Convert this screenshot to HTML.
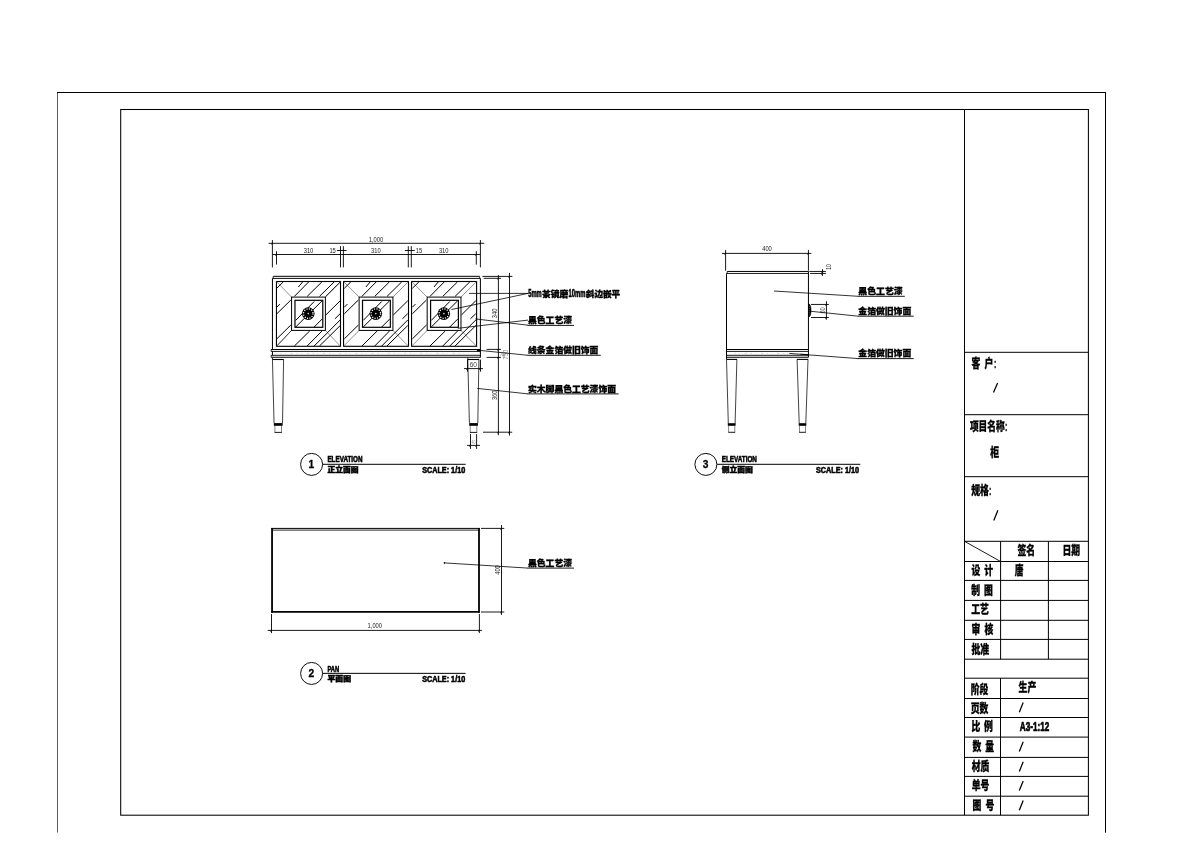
<!DOCTYPE html>
<html lang="zh-CN"><head><meta charset="utf-8"><title>柜 - 生产图 A3-1:12</title>
<style>html,body{margin:0;padding:0;background:#fff;}body{width:1191px;height:842px;overflow:hidden;}svg{display:block;filter:grayscale(1);}text{font-family:"Liberation Sans","Noto Sans CJK SC",sans-serif;}</style></head><body>
<svg width="1191" height="842" viewBox="0 0 1191 842">
<rect x="0" y="0" width="1191" height="842" fill="#fff"/>
<g id="frames">
<line x1="57.50" y1="832.60" x2="57.50" y2="92.00" stroke="#333" stroke-width="0.8" />
<line x1="57.00" y1="92.50" x2="1106.00" y2="92.50" stroke="#000" stroke-width="1.0" />
<line x1="1105.50" y1="92.00" x2="1105.50" y2="832.70" stroke="#000" stroke-width="1.0" />
<rect x="120.70" y="109.50" width="967.70" height="705.70" fill="none" stroke="#000" stroke-width="1.05"/>
<line x1="964.50" y1="109.60" x2="964.50" y2="815.20" stroke="#000" stroke-width="1.0" />
<line x1="964.50" y1="352.30" x2="1088.40" y2="352.30" stroke="#000" stroke-width="1.0" />
<line x1="964.50" y1="414.70" x2="1088.40" y2="414.70" stroke="#000" stroke-width="1.0" />
<line x1="964.50" y1="476.70" x2="1088.40" y2="476.70" stroke="#000" stroke-width="1.0" />
<line x1="964.50" y1="541.30" x2="1088.40" y2="541.30" stroke="#000" stroke-width="1.0" />
<line x1="964.50" y1="561.50" x2="1088.40" y2="561.50" stroke="#000" stroke-width="1.0" />
<line x1="964.50" y1="580.40" x2="1088.40" y2="580.40" stroke="#000" stroke-width="1.0" />
<line x1="964.50" y1="600.40" x2="1088.40" y2="600.40" stroke="#000" stroke-width="1.0" />
<line x1="964.50" y1="620.30" x2="1088.40" y2="620.30" stroke="#000" stroke-width="1.0" />
<line x1="964.50" y1="639.40" x2="1088.40" y2="639.40" stroke="#000" stroke-width="1.0" />
<line x1="964.50" y1="659.20" x2="1088.40" y2="659.20" stroke="#000" stroke-width="1.0" />
<line x1="964.50" y1="678.20" x2="1088.40" y2="678.20" stroke="#000" stroke-width="1.0" />
<line x1="964.50" y1="698.50" x2="1088.40" y2="698.50" stroke="#000" stroke-width="1.0" />
<line x1="964.50" y1="717.50" x2="1088.40" y2="717.50" stroke="#000" stroke-width="1.0" />
<line x1="964.50" y1="737.10" x2="1088.40" y2="737.10" stroke="#000" stroke-width="1.0" />
<line x1="964.50" y1="757.40" x2="1088.40" y2="757.40" stroke="#000" stroke-width="1.0" />
<line x1="964.50" y1="776.40" x2="1088.40" y2="776.40" stroke="#000" stroke-width="1.0" />
<line x1="964.50" y1="796.20" x2="1088.40" y2="796.20" stroke="#000" stroke-width="1.0" />
<line x1="1000.60" y1="541.30" x2="1000.60" y2="659.20" stroke="#000" stroke-width="1.0" />
<line x1="1048.40" y1="541.30" x2="1048.40" y2="659.20" stroke="#000" stroke-width="1.0" />
<line x1="964.50" y1="541.30" x2="1000.60" y2="561.50" stroke="#000" stroke-width="0.9" />
<line x1="1000.50" y1="678.20" x2="1000.50" y2="815.20" stroke="#000" stroke-width="1.0" />
</g>
<g id="titleblock">
<text transform="translate(971.60,368.37) scale(0.735,1)" font-size="12.0" font-weight="900" fill="#000" text-anchor="start" stroke="#000" stroke-width="0.3">客</text>
<text transform="translate(984.40,368.37) scale(0.735,1)" font-size="12.0" font-weight="900" fill="#000" text-anchor="start" stroke="#000" stroke-width="0.3">户</text>
<text transform="translate(993.90,368.37) scale(0.6,1)" font-size="12.0" font-weight="bold" fill="#000" text-anchor="start" stroke="#000" stroke-width="0.3">:</text>
<line x1="993.50" y1="392.60" x2="997.60" y2="383.10" stroke="#000" stroke-width="1.25" />
<text transform="translate(969.90,430.97) scale(0.725,1)" font-size="12.0" font-weight="900" fill="#000" text-anchor="start" stroke="#000" stroke-width="0.3">项目名称</text>
<text transform="translate(1005.00,430.97) scale(0.6,1)" font-size="12.0" font-weight="bold" fill="#000" text-anchor="start" stroke="#000" stroke-width="0.3">:</text>
<text transform="translate(990.30,456.97) scale(0.735,1)" font-size="12.0" font-weight="900" fill="#000" text-anchor="start" stroke="#000" stroke-width="0.3">柜</text>
<text transform="translate(971.20,495.17) scale(0.735,1)" font-size="12.0" font-weight="900" fill="#000" text-anchor="start" stroke="#000" stroke-width="0.3">规格</text>
<text transform="translate(988.90,495.17) scale(0.6,1)" font-size="12.0" font-weight="bold" fill="#000" text-anchor="start" stroke="#000" stroke-width="0.3">:</text>
<line x1="993.80" y1="520.40" x2="997.90" y2="510.30" stroke="#000" stroke-width="1.25" />
<text transform="translate(1017.50,555.17) scale(0.735,1)" font-size="12.0" font-weight="900" fill="#000" text-anchor="start" stroke="#000" stroke-width="0.3">签名</text>
<text transform="translate(1062.40,555.17) scale(0.735,1)" font-size="12.0" font-weight="900" fill="#000" text-anchor="start" stroke="#000" stroke-width="0.3">日期</text>
<text transform="translate(971.50,574.77) scale(0.735,1)" font-size="12.0" font-weight="900" fill="#000" text-anchor="start" stroke="#000" stroke-width="0.3">设</text>
<text transform="translate(984.30,574.77) scale(0.735,1)" font-size="12.0" font-weight="900" fill="#000" text-anchor="start" stroke="#000" stroke-width="0.3">计</text>
<text transform="translate(1014.80,574.77) scale(0.735,1)" font-size="12.0" font-weight="900" fill="#000" text-anchor="start" stroke="#000" stroke-width="0.3">唐</text>
<text transform="translate(971.30,594.57) scale(0.735,1)" font-size="12.0" font-weight="900" fill="#000" text-anchor="start" stroke="#000" stroke-width="0.3">制</text>
<text transform="translate(984.10,594.57) scale(0.735,1)" font-size="12.0" font-weight="900" fill="#000" text-anchor="start" stroke="#000" stroke-width="0.3">图</text>
<text transform="translate(971.30,614.17) scale(0.735,1)" font-size="12.0" font-weight="900" fill="#000" text-anchor="start" stroke="#000" stroke-width="0.3">工艺</text>
<text transform="translate(971.50,634.37) scale(0.735,1)" font-size="12.0" font-weight="900" fill="#000" text-anchor="start" stroke="#000" stroke-width="0.3">审</text>
<text transform="translate(984.40,634.37) scale(0.735,1)" font-size="12.0" font-weight="900" fill="#000" text-anchor="start" stroke="#000" stroke-width="0.3">核</text>
<text transform="translate(971.50,654.07) scale(0.735,1)" font-size="12.0" font-weight="900" fill="#000" text-anchor="start" stroke="#000" stroke-width="0.3">批准</text>
<text transform="translate(970.80,693.57) scale(0.735,1)" font-size="12.0" font-weight="900" fill="#000" text-anchor="start" stroke="#000" stroke-width="0.3">阶段</text>
<text transform="translate(1018.60,691.97) scale(0.735,1)" font-size="12.0" font-weight="900" fill="#000" text-anchor="start" stroke="#000" stroke-width="0.3">生产</text>
<text transform="translate(970.80,713.27) scale(0.735,1)" font-size="12.0" font-weight="900" fill="#000" text-anchor="start" stroke="#000" stroke-width="0.3">页数</text>
<text transform="translate(971.60,731.27) scale(0.735,1)" font-size="12.0" font-weight="900" fill="#000" text-anchor="start" stroke="#000" stroke-width="0.3">比</text>
<text transform="translate(984.10,731.27) scale(0.735,1)" font-size="12.0" font-weight="900" fill="#000" text-anchor="start" stroke="#000" stroke-width="0.3">例</text>
<text transform="translate(1019.80,730.80) scale(0.66,1)" font-size="12.4" font-weight="bold" fill="#000" text-anchor="start" stroke="#000" stroke-width="0.7">A3-1:12</text>
<text transform="translate(972.40,750.67) scale(0.735,1)" font-size="12.0" font-weight="900" fill="#000" text-anchor="start" stroke="#000" stroke-width="0.3">数</text>
<text transform="translate(985.20,750.67) scale(0.735,1)" font-size="12.0" font-weight="900" fill="#000" text-anchor="start" stroke="#000" stroke-width="0.3">量</text>
<text transform="translate(971.80,771.17) scale(0.735,1)" font-size="12.0" font-weight="900" fill="#000" text-anchor="start" stroke="#000" stroke-width="0.3">材质</text>
<text transform="translate(971.80,790.17) scale(0.735,1)" font-size="12.0" font-weight="900" fill="#000" text-anchor="start" stroke="#000" stroke-width="0.3">单号</text>
<text transform="translate(972.40,809.57) scale(0.735,1)" font-size="12.0" font-weight="900" fill="#000" text-anchor="start" stroke="#000" stroke-width="0.3">图</text>
<text transform="translate(985.60,809.57) scale(0.735,1)" font-size="12.0" font-weight="900" fill="#000" text-anchor="start" stroke="#000" stroke-width="0.3">号</text>
<line x1="1019.30" y1="712.20" x2="1023.20" y2="702.60" stroke="#000" stroke-width="1.25" />
<line x1="1019.30" y1="751.40" x2="1023.20" y2="741.80" stroke="#000" stroke-width="1.25" />
<line x1="1019.30" y1="771.40" x2="1023.20" y2="761.80" stroke="#000" stroke-width="1.25" />
<line x1="1019.30" y1="790.60" x2="1023.20" y2="781.00" stroke="#000" stroke-width="1.25" />
<line x1="1019.30" y1="810.20" x2="1023.20" y2="800.60" stroke="#000" stroke-width="1.25" />
</g>
<g id="view1">
<line x1="273.20" y1="276.30" x2="479.60" y2="276.30" stroke="#000" stroke-width="1.0" />
<line x1="272.40" y1="278.40" x2="480.40" y2="278.40" stroke="#000" stroke-width="0.95" />
<line x1="273.20" y1="276.30" x2="273.20" y2="278.40" stroke="#000" stroke-width="0.8" />
<line x1="479.60" y1="276.30" x2="479.60" y2="278.40" stroke="#000" stroke-width="0.8" />
<line x1="272.45" y1="278.40" x2="272.45" y2="349.45" stroke="#000" stroke-width="1.0" />
<line x1="480.40" y1="278.40" x2="480.40" y2="349.45" stroke="#000" stroke-width="1.0" />
<line x1="271.15" y1="349.45" x2="480.70" y2="349.45" stroke="#000" stroke-width="1.05" />
<line x1="271.15" y1="351.40" x2="480.70" y2="351.40" stroke="#000" stroke-width="0.9" />
<line x1="271.15" y1="355.30" x2="480.70" y2="355.30" stroke="#000" stroke-width="0.9" />
<line x1="271.15" y1="357.30" x2="480.70" y2="357.30" stroke="#000" stroke-width="1.05" />
<line x1="271.15" y1="349.45" x2="271.15" y2="351.40" stroke="#000" stroke-width="0.8" />
<line x1="271.15" y1="355.30" x2="271.15" y2="357.30" stroke="#000" stroke-width="0.8" />
<line x1="272.45" y1="351.40" x2="272.45" y2="355.30" stroke="#000" stroke-width="1.0" />
<line x1="480.40" y1="349.45" x2="480.40" y2="357.30" stroke="#000" stroke-width="1.0" />
<rect x="476.9" y="349.45" width="3.3" height="1.9" fill="#000"/>
<line x1="280.40" y1="353.30" x2="468.40" y2="353.30" stroke="#bbb" stroke-width="0.6" stroke-dasharray="1.2 3.1 0.6 5.3 2 4"/>
<rect x="276.45" y="281.50" width="64.05" height="64.80" fill="none" stroke="#000" stroke-width="1.1"/>
<line x1="276.45" y1="281.50" x2="291.58" y2="297.10" stroke="#666" stroke-width="0.7" />
<line x1="340.50" y1="281.50" x2="325.38" y2="297.10" stroke="#666" stroke-width="0.7" />
<line x1="276.45" y1="346.30" x2="291.58" y2="330.40" stroke="#666" stroke-width="0.7" />
<line x1="340.50" y1="346.30" x2="325.38" y2="330.40" stroke="#666" stroke-width="0.7" />
<line x1="276.78" y1="288.30" x2="283.28" y2="281.90" stroke="#000" stroke-width="1.0" />
<line x1="298.38" y1="287.00" x2="302.58" y2="282.00" stroke="#000" stroke-width="1.0" />
<line x1="294.38" y1="296.40" x2="308.68" y2="281.90" stroke="#000" stroke-width="1.0" />
<line x1="307.18" y1="296.40" x2="321.88" y2="281.90" stroke="#000" stroke-width="1.0" />
<line x1="319.48" y1="296.40" x2="334.18" y2="281.90" stroke="#000" stroke-width="1.0" />
<line x1="276.78" y1="307.20" x2="279.88" y2="304.10" stroke="#000" stroke-width="1.0" />
<line x1="276.78" y1="313.80" x2="290.88" y2="300.00" stroke="#000" stroke-width="1.0" />
<line x1="276.78" y1="338.90" x2="290.88" y2="325.00" stroke="#000" stroke-width="1.0" />
<line x1="294.38" y1="346.00" x2="309.78" y2="330.90" stroke="#000" stroke-width="1.0" />
<line x1="307.18" y1="346.00" x2="322.08" y2="330.90" stroke="#000" stroke-width="1.0" />
<line x1="314.18" y1="346.00" x2="340.18" y2="320.00" stroke="#000" stroke-width="1.0" />
<line x1="319.48" y1="346.00" x2="340.18" y2="325.60" stroke="#000" stroke-width="1.0" />
<line x1="325.78" y1="315.00" x2="340.18" y2="300.80" stroke="#000" stroke-width="1.0" />
<line x1="334.88" y1="318.80" x2="340.18" y2="313.70" stroke="#000" stroke-width="1.0" />
<line x1="295.68" y1="320.40" x2="314.18" y2="301.50" stroke="#000" stroke-width="1.0" />
<line x1="295.68" y1="327.00" x2="322.08" y2="300.80" stroke="#000" stroke-width="1.0" />
<line x1="314.18" y1="327.00" x2="322.08" y2="319.10" stroke="#000" stroke-width="1.0" />
<line x1="325.80" y1="296.40" x2="339.90" y2="282.40" stroke="#000" stroke-width="0.9" />
<line x1="276.90" y1="345.90" x2="291.30" y2="330.60" stroke="#333" stroke-width="0.8" />
<rect x="291.58" y="297.10" width="33.80" height="33.30" fill="none" stroke="#000" stroke-width="1.0"/>
<rect x="294.98" y="300.30" width="27.80" height="27.00" fill="none" stroke="#000" stroke-width="1.2"/>
<circle cx="308.28" cy="313.60" r="6.3" fill="#000"/>
<circle cx="308.28" cy="313.60" r="4.75" fill="none" stroke="#fff" stroke-width="1.25" stroke-dasharray="1.15 1.337"/>
<circle cx="308.28" cy="313.60" r="0.8" fill="#ddd"/>
<rect x="343.55" y="281.50" width="64.95" height="64.80" fill="none" stroke="#000" stroke-width="1.1"/>
<line x1="343.55" y1="281.50" x2="359.12" y2="297.10" stroke="#666" stroke-width="0.7" />
<line x1="408.50" y1="281.50" x2="392.92" y2="297.10" stroke="#666" stroke-width="0.7" />
<line x1="343.55" y1="346.30" x2="359.12" y2="330.40" stroke="#666" stroke-width="0.7" />
<line x1="408.50" y1="346.30" x2="392.92" y2="330.40" stroke="#666" stroke-width="0.7" />
<line x1="344.32" y1="288.30" x2="350.82" y2="281.90" stroke="#000" stroke-width="1.0" />
<line x1="365.92" y1="287.00" x2="370.12" y2="282.00" stroke="#000" stroke-width="1.0" />
<line x1="361.92" y1="296.40" x2="376.22" y2="281.90" stroke="#000" stroke-width="1.0" />
<line x1="374.72" y1="296.40" x2="389.42" y2="281.90" stroke="#000" stroke-width="1.0" />
<line x1="387.02" y1="296.40" x2="401.72" y2="281.90" stroke="#000" stroke-width="1.0" />
<line x1="344.32" y1="307.20" x2="347.42" y2="304.10" stroke="#000" stroke-width="1.0" />
<line x1="344.32" y1="313.80" x2="358.42" y2="300.00" stroke="#000" stroke-width="1.0" />
<line x1="344.32" y1="338.90" x2="358.42" y2="325.00" stroke="#000" stroke-width="1.0" />
<line x1="361.92" y1="346.00" x2="377.32" y2="330.90" stroke="#000" stroke-width="1.0" />
<line x1="374.72" y1="346.00" x2="389.62" y2="330.90" stroke="#000" stroke-width="1.0" />
<line x1="381.72" y1="346.00" x2="407.72" y2="320.00" stroke="#000" stroke-width="1.0" />
<line x1="387.02" y1="346.00" x2="407.72" y2="325.60" stroke="#000" stroke-width="1.0" />
<line x1="393.32" y1="315.00" x2="407.72" y2="300.80" stroke="#000" stroke-width="1.0" />
<line x1="402.42" y1="318.80" x2="407.72" y2="313.70" stroke="#000" stroke-width="1.0" />
<line x1="363.22" y1="320.40" x2="381.72" y2="301.50" stroke="#000" stroke-width="1.0" />
<line x1="363.22" y1="327.00" x2="389.62" y2="300.80" stroke="#000" stroke-width="1.0" />
<line x1="381.72" y1="327.00" x2="389.62" y2="319.10" stroke="#000" stroke-width="1.0" />
<rect x="359.12" y="297.10" width="33.80" height="33.30" fill="none" stroke="#000" stroke-width="1.0"/>
<rect x="362.52" y="300.30" width="27.80" height="27.00" fill="none" stroke="#000" stroke-width="1.2"/>
<circle cx="375.82" cy="313.60" r="6.3" fill="#000"/>
<circle cx="375.82" cy="313.60" r="4.75" fill="none" stroke="#fff" stroke-width="1.25" stroke-dasharray="1.15 1.337"/>
<circle cx="375.82" cy="313.60" r="0.8" fill="#ddd"/>
<rect x="411.55" y="281.50" width="65.05" height="64.80" fill="none" stroke="#000" stroke-width="1.1"/>
<line x1="411.55" y1="281.50" x2="427.18" y2="297.10" stroke="#666" stroke-width="0.7" />
<line x1="476.60" y1="281.50" x2="460.98" y2="297.10" stroke="#666" stroke-width="0.7" />
<line x1="411.55" y1="346.30" x2="427.18" y2="330.40" stroke="#666" stroke-width="0.7" />
<line x1="476.60" y1="346.30" x2="460.98" y2="330.40" stroke="#666" stroke-width="0.7" />
<line x1="412.38" y1="288.30" x2="418.88" y2="281.90" stroke="#000" stroke-width="1.0" />
<line x1="433.98" y1="287.00" x2="438.18" y2="282.00" stroke="#000" stroke-width="1.0" />
<line x1="429.98" y1="296.40" x2="444.28" y2="281.90" stroke="#000" stroke-width="1.0" />
<line x1="442.78" y1="296.40" x2="457.48" y2="281.90" stroke="#000" stroke-width="1.0" />
<line x1="455.08" y1="296.40" x2="469.78" y2="281.90" stroke="#000" stroke-width="1.0" />
<line x1="412.38" y1="307.20" x2="415.48" y2="304.10" stroke="#000" stroke-width="1.0" />
<line x1="412.38" y1="313.80" x2="426.48" y2="300.00" stroke="#000" stroke-width="1.0" />
<line x1="412.38" y1="338.90" x2="426.48" y2="325.00" stroke="#000" stroke-width="1.0" />
<line x1="429.98" y1="346.00" x2="445.38" y2="330.90" stroke="#000" stroke-width="1.0" />
<line x1="442.78" y1="346.00" x2="457.68" y2="330.90" stroke="#000" stroke-width="1.0" />
<line x1="449.78" y1="346.00" x2="475.78" y2="320.00" stroke="#000" stroke-width="1.0" />
<line x1="455.08" y1="346.00" x2="475.78" y2="325.60" stroke="#000" stroke-width="1.0" />
<line x1="461.38" y1="315.00" x2="475.78" y2="300.80" stroke="#000" stroke-width="1.0" />
<line x1="470.48" y1="318.80" x2="475.78" y2="313.70" stroke="#000" stroke-width="1.0" />
<line x1="431.28" y1="320.40" x2="449.78" y2="301.50" stroke="#000" stroke-width="1.0" />
<line x1="431.28" y1="327.00" x2="457.68" y2="300.80" stroke="#000" stroke-width="1.0" />
<line x1="449.78" y1="327.00" x2="457.68" y2="319.10" stroke="#000" stroke-width="1.0" />
<rect x="427.18" y="297.10" width="33.80" height="33.30" fill="none" stroke="#000" stroke-width="1.0"/>
<rect x="430.58" y="300.30" width="27.80" height="27.00" fill="none" stroke="#000" stroke-width="1.2"/>
<circle cx="443.88" cy="313.60" r="6.3" fill="#000"/>
<circle cx="443.88" cy="313.60" r="4.75" fill="none" stroke="#fff" stroke-width="1.25" stroke-dasharray="1.15 1.337"/>
<circle cx="443.88" cy="313.60" r="0.8" fill="#ddd"/>
<line x1="272.25" y1="359.50" x2="283.70" y2="359.50" stroke="#000" stroke-width="1.1" />
<line x1="272.45" y1="357.50" x2="272.45" y2="359.50" stroke="#000" stroke-width="0.8" />
<line x1="272.45" y1="359.50" x2="274.05" y2="423.20" stroke="#111" stroke-width="0.8" />
<line x1="283.60" y1="359.50" x2="282.50" y2="423.20" stroke="#111" stroke-width="0.8" />
<rect x="273.85" y="423.1" width="8.80" height="2.7" fill="#000"/>
<line x1="274.90" y1="425.80" x2="274.90" y2="432.40" stroke="#555" stroke-width="0.7" />
<line x1="281.50" y1="425.80" x2="281.50" y2="432.40" stroke="#555" stroke-width="0.7" />
<line x1="274.55" y1="432.40" x2="281.85" y2="432.40" stroke="#000" stroke-width="0.9" />
<line x1="467.60" y1="359.50" x2="479.00" y2="359.50" stroke="#000" stroke-width="1.1" />
<line x1="467.80" y1="357.50" x2="467.80" y2="359.50" stroke="#000" stroke-width="0.8" />
<line x1="467.80" y1="359.50" x2="469.40" y2="423.20" stroke="#111" stroke-width="0.8" />
<line x1="478.90" y1="359.50" x2="477.80" y2="423.20" stroke="#111" stroke-width="0.8" />
<rect x="469.20" y="423.1" width="8.75" height="2.7" fill="#000"/>
<line x1="470.25" y1="425.80" x2="470.25" y2="432.40" stroke="#555" stroke-width="0.7" />
<line x1="476.80" y1="425.80" x2="476.80" y2="432.40" stroke="#555" stroke-width="0.7" />
<line x1="469.90" y1="432.40" x2="477.15" y2="432.40" stroke="#000" stroke-width="0.9" />
<line x1="268.60" y1="243.30" x2="484.20" y2="243.30" stroke="#000" stroke-width="0.9" />
<line x1="272.40" y1="240.00" x2="272.40" y2="267.40" stroke="#000" stroke-width="0.9" />
<line x1="480.40" y1="240.00" x2="480.40" y2="267.40" stroke="#000" stroke-width="0.9" />
<line x1="272.40" y1="254.50" x2="480.40" y2="254.50" stroke="#000" stroke-width="0.9" />
<line x1="276.50" y1="251.20" x2="276.50" y2="264.60" stroke="#000" stroke-width="0.9" />
<line x1="476.30" y1="251.20" x2="476.30" y2="264.60" stroke="#000" stroke-width="0.9" />
<line x1="340.50" y1="246.20" x2="340.50" y2="267.40" stroke="#000" stroke-width="0.9" />
<line x1="343.40" y1="246.20" x2="343.40" y2="267.40" stroke="#000" stroke-width="0.9" />
<line x1="408.30" y1="246.20" x2="408.30" y2="267.40" stroke="#000" stroke-width="0.9" />
<line x1="411.30" y1="246.20" x2="411.30" y2="267.40" stroke="#000" stroke-width="0.9" />
<line x1="336.90" y1="250.50" x2="346.60" y2="250.50" stroke="#000" stroke-width="0.9" />
<line x1="404.90" y1="250.50" x2="414.80" y2="250.50" stroke="#000" stroke-width="0.9" />
<line x1="271.15" y1="244.30" x2="272.90" y2="242.75" stroke="#000" stroke-width="0.9"/>
<line x1="479.15" y1="244.30" x2="480.90" y2="242.75" stroke="#000" stroke-width="0.9"/>
<line x1="275.25" y1="255.50" x2="277.00" y2="253.95" stroke="#000" stroke-width="0.9"/>
<line x1="475.05" y1="255.50" x2="476.80" y2="253.95" stroke="#000" stroke-width="0.9"/>
<text transform="translate(375.90,242.10) scale(0.76,1)" font-size="7.6" font-weight="normal" fill="#222" text-anchor="middle">1,000</text>
<text transform="translate(308.50,253.20) scale(0.76,1)" font-size="7.6" font-weight="normal" fill="#222" text-anchor="middle">310</text>
<text transform="translate(375.90,253.20) scale(0.76,1)" font-size="7.6" font-weight="normal" fill="#222" text-anchor="middle">310</text>
<text transform="translate(443.70,253.20) scale(0.76,1)" font-size="7.6" font-weight="normal" fill="#222" text-anchor="middle">310</text>
<text transform="translate(332.60,252.50) scale(0.76,1)" font-size="7.6" font-weight="normal" fill="#222" text-anchor="middle">15</text>
<text transform="translate(419.00,252.50) scale(0.76,1)" font-size="7.6" font-weight="normal" fill="#222" text-anchor="middle">15</text>
<line x1="482.40" y1="276.40" x2="512.40" y2="276.40" stroke="#000" stroke-width="0.9" />
<line x1="483.70" y1="278.30" x2="501.10" y2="278.30" stroke="#000" stroke-width="0.9" />
<line x1="498.40" y1="275.00" x2="498.40" y2="435.20" stroke="#000" stroke-width="0.9" />
<line x1="509.50" y1="272.90" x2="509.50" y2="435.60" stroke="#000" stroke-width="0.9" />
<line x1="486.60" y1="349.40" x2="500.90" y2="349.40" stroke="#000" stroke-width="0.9" />
<line x1="486.60" y1="357.40" x2="500.90" y2="357.40" stroke="#000" stroke-width="0.9" />
<line x1="483.00" y1="432.20" x2="512.20" y2="432.20" stroke="#000" stroke-width="0.9" />
<line x1="497.15" y1="279.30" x2="498.90" y2="277.75" stroke="#000" stroke-width="0.9"/>
<line x1="508.25" y1="277.40" x2="510.00" y2="275.85" stroke="#000" stroke-width="0.9"/>
<line x1="497.15" y1="350.40" x2="498.90" y2="348.85" stroke="#000" stroke-width="0.9"/>
<line x1="497.15" y1="358.40" x2="498.90" y2="356.85" stroke="#000" stroke-width="0.9"/>
<line x1="497.15" y1="433.20" x2="498.90" y2="431.65" stroke="#000" stroke-width="0.9"/>
<line x1="508.25" y1="433.20" x2="510.00" y2="431.65" stroke="#000" stroke-width="0.9"/>
<text transform="translate(496.90,313.40) rotate(-90) scale(0.76,1)" font-size="7.6" font-weight="normal" fill="#222" text-anchor="middle">340</text>
<text transform="translate(496.70,395.30) rotate(-90) scale(0.76,1)" font-size="7.6" font-weight="normal" fill="#222" text-anchor="middle">360</text>
<text transform="translate(508.00,354.60) rotate(-90) scale(0.76,1)" font-size="7.6" font-weight="normal" fill="#888" text-anchor="middle">750</text>
<text transform="translate(505.00,356.00) rotate(-60) scale(0.76,1)" font-size="6.4" font-weight="normal" fill="#999" text-anchor="middle">30</text>
<line x1="464.00" y1="368.60" x2="483.00" y2="368.60" stroke="#000" stroke-width="0.9" />
<line x1="479.70" y1="359.50" x2="479.70" y2="368.00" stroke="#999" stroke-width="0.6" />
<line x1="467.50" y1="359.60" x2="467.50" y2="371.70" stroke="#000" stroke-width="0.9" />
<line x1="466.25" y1="369.60" x2="468.00" y2="368.05" stroke="#000" stroke-width="0.9"/>
<line x1="480.50" y1="359.60" x2="480.50" y2="371.70" stroke="#000" stroke-width="0.9" />
<line x1="479.25" y1="369.60" x2="481.00" y2="368.05" stroke="#000" stroke-width="0.9"/>
<text transform="translate(473.30,367.20) scale(0.86,1)" font-size="7.6" font-weight="normal" fill="#444" text-anchor="middle">60</text>
<line x1="470.50" y1="434.10" x2="470.50" y2="448.90" stroke="#000" stroke-width="0.9" />
<line x1="469.25" y1="446.40" x2="471.00" y2="444.85" stroke="#000" stroke-width="0.9"/>
<line x1="476.60" y1="434.10" x2="476.60" y2="448.90" stroke="#000" stroke-width="0.9" />
<line x1="475.35" y1="446.40" x2="477.10" y2="444.85" stroke="#000" stroke-width="0.9"/>
<line x1="467.00" y1="445.40" x2="480.00" y2="445.40" stroke="#000" stroke-width="0.9" />
<text transform="translate(473.50,444.40) scale(0.76,1)" font-size="4.6" font-weight="normal" fill="#999" text-anchor="middle">40</text>
<text x="528.30" y="296.90" font-size="10.8" font-weight="bold" fill="#000" stroke="#000" stroke-width="0.6" textLength="13.40" lengthAdjust="spacingAndGlyphs">5mm</text>
<text x="542.00" y="297.00" font-size="8.3" font-weight="900" fill="#000" stroke="#000" stroke-width="0.3" textLength="26.30" lengthAdjust="spacingAndGlyphs">茶镜磨</text>
<text x="568.60" y="296.90" font-size="10.8" font-weight="bold" fill="#000" stroke="#000" stroke-width="0.6" textLength="16.90" lengthAdjust="spacingAndGlyphs">10mm</text>
<text x="585.80" y="297.00" font-size="8.3" font-weight="900" fill="#000" stroke="#000" stroke-width="0.3" textLength="34.40" lengthAdjust="spacingAndGlyphs">斜边嵌平</text>
<line x1="469.10" y1="293.40" x2="528.00" y2="293.40" stroke="#000" stroke-width="0.8" />
<line x1="528.00" y1="293.40" x2="451.50" y2="309.50" stroke="#000" stroke-width="0.8" />
<text x="528.00" y="323.10" font-size="8.3" font-weight="900" fill="#000" stroke="#000" stroke-width="0.3" textLength="44.00" lengthAdjust="spacingAndGlyphs">黑色工艺漆</text>
<line x1="527.60" y1="325.40" x2="574.00" y2="325.40" stroke="#000" stroke-width="0.9" />
<line x1="528.00" y1="325.20" x2="476.30" y2="319.00" stroke="#000" stroke-width="0.8" />
<line x1="528.00" y1="320.10" x2="457.80" y2="328.30" stroke="#000" stroke-width="0.8" />
<circle cx="476.4" cy="319.0" r="0.9" fill="#000"/>
<text x="528.00" y="353.00" font-size="8.3" font-weight="900" fill="#000" stroke="#000" stroke-width="0.3" textLength="70.40" lengthAdjust="spacingAndGlyphs">线条金箔做旧饰面</text>
<line x1="527.60" y1="355.30" x2="600.80" y2="355.30" stroke="#000" stroke-width="0.9" />
<line x1="528.00" y1="355.30" x2="477.80" y2="350.20" stroke="#000" stroke-width="0.8" />
<text x="528.00" y="391.60" font-size="8.3" font-weight="900" fill="#000" stroke="#000" stroke-width="0.3" textLength="88.00" lengthAdjust="spacingAndGlyphs">实木脚黑色工艺漆饰面</text>
<line x1="527.60" y1="393.90" x2="618.70" y2="393.90" stroke="#000" stroke-width="0.9" />
<line x1="528.00" y1="393.90" x2="477.30" y2="388.40" stroke="#000" stroke-width="0.8" />
<circle cx="311.60" cy="464.40" r="11.0" fill="#fff" stroke="#000" stroke-width="0.95"/>
<text transform="translate(311.40,467.70)" font-size="10.2" font-weight="bold" fill="#000" text-anchor="middle" stroke="#000" stroke-width="0.3">1</text>
<line x1="322.60" y1="464.30" x2="465.60" y2="464.30" stroke="#000" stroke-width="1.0" />
<text x="327.40" y="462.45" font-size="9.0" font-weight="bold" fill="#000" stroke="#000" stroke-width="0.6" textLength="35.20" lengthAdjust="spacingAndGlyphs">ELEVATION</text>
<text x="327.50" y="472.30" font-size="6.8" font-weight="900" fill="#000" stroke="#000" stroke-width="0.45" textLength="31.00" lengthAdjust="spacingAndGlyphs">正立面图</text>
<text x="422.20" y="472.50" font-size="8.4" font-weight="bold" fill="#000" stroke="#000" stroke-width="0.55" textLength="43.00" lengthAdjust="spacingAndGlyphs">SCALE: 1/10</text>
</g>
<g id="view3">
<line x1="727.20" y1="271.45" x2="808.45" y2="271.45" stroke="#000" stroke-width="1.0" />
<line x1="726.50" y1="273.45" x2="808.45" y2="273.45" stroke="#000" stroke-width="0.9" />
<line x1="727.20" y1="271.45" x2="727.20" y2="273.45" stroke="#000" stroke-width="0.8" />
<line x1="726.50" y1="273.45" x2="726.50" y2="349.45" stroke="#000" stroke-width="1.0" />
<line x1="808.45" y1="271.45" x2="808.45" y2="349.45" stroke="#000" stroke-width="1.0" />
<line x1="726.50" y1="349.45" x2="808.45" y2="349.45" stroke="#000" stroke-width="1.05" />
<line x1="726.50" y1="351.40" x2="808.45" y2="351.40" stroke="#000" stroke-width="0.9" />
<line x1="726.50" y1="355.30" x2="808.45" y2="355.30" stroke="#000" stroke-width="0.9" />
<line x1="726.20" y1="357.30" x2="808.45" y2="357.30" stroke="#000" stroke-width="1.05" />
<line x1="726.50" y1="349.20" x2="726.50" y2="359.40" stroke="#000" stroke-width="1.0" />
<line x1="808.45" y1="349.20" x2="808.45" y2="357.30" stroke="#000" stroke-width="1.0" />
<line x1="734.50" y1="353.40" x2="788.45" y2="353.40" stroke="#bbb" stroke-width="0.6" stroke-dasharray="1.2 3.1 0.6 5.3 2 4"/>
<line x1="800.50" y1="354.30" x2="808.00" y2="354.60" stroke="#222" stroke-width="1.1" />
<line x1="726.40" y1="359.40" x2="737.00" y2="359.40" stroke="#000" stroke-width="1.1" />
<line x1="726.50" y1="359.40" x2="728.30" y2="423.40" stroke="#111" stroke-width="0.8" />
<line x1="736.90" y1="359.40" x2="735.10" y2="423.40" stroke="#111" stroke-width="0.8" />
<rect x="727.80" y="423.2" width="7.80" height="2.6" fill="#000"/>
<line x1="728.60" y1="425.80" x2="728.60" y2="432.30" stroke="#555" stroke-width="0.7" />
<line x1="734.80" y1="425.80" x2="734.80" y2="432.30" stroke="#555" stroke-width="0.7" />
<line x1="728.30" y1="432.30" x2="735.10" y2="432.30" stroke="#000" stroke-width="0.9" />
<line x1="797.00" y1="359.40" x2="808.10" y2="359.40" stroke="#000" stroke-width="1.1" />
<line x1="797.10" y1="359.40" x2="799.20" y2="423.40" stroke="#111" stroke-width="0.8" />
<line x1="808.00" y1="359.40" x2="805.80" y2="423.40" stroke="#111" stroke-width="0.8" />
<rect x="798.70" y="423.2" width="7.60" height="2.6" fill="#000"/>
<line x1="799.50" y1="425.80" x2="799.50" y2="432.30" stroke="#555" stroke-width="0.7" />
<line x1="805.50" y1="425.80" x2="805.50" y2="432.30" stroke="#555" stroke-width="0.7" />
<line x1="799.20" y1="432.30" x2="805.80" y2="432.30" stroke="#000" stroke-width="0.9" />
<path d="M808.5,303.8 C810.2,304.2 811.0,306.0 811.0,310.4 C811.0,314.8 810.2,316.6 808.5,317.0 Z" fill="#000" stroke="#000" stroke-width="0.5"/>
<line x1="809.55" y1="306.3" x2="809.55" y2="315.2" stroke="#fff" stroke-width="0.5" stroke-dasharray="0.6 1.5"/>
<line x1="721.90" y1="253.40" x2="811.40" y2="253.40" stroke="#000" stroke-width="0.9" />
<line x1="725.60" y1="249.90" x2="725.60" y2="270.70" stroke="#000" stroke-width="0.9" />
<line x1="724.35" y1="254.40" x2="726.10" y2="252.85" stroke="#000" stroke-width="0.9"/>
<line x1="808.45" y1="249.90" x2="808.45" y2="270.70" stroke="#000" stroke-width="0.9" />
<line x1="807.20" y1="254.40" x2="808.95" y2="252.85" stroke="#000" stroke-width="0.9"/>
<text transform="translate(767.00,251.30) scale(0.76,1)" font-size="7.6" font-weight="normal" fill="#222" text-anchor="middle">400</text>
<line x1="809.30" y1="271.45" x2="825.90" y2="271.45" stroke="#000" stroke-width="0.9" />
<line x1="810.00" y1="273.45" x2="825.90" y2="273.45" stroke="#000" stroke-width="0.9" />
<line x1="822.50" y1="269.20" x2="822.50" y2="275.80" stroke="#000" stroke-width="0.9" />
<line x1="821.35" y1="272.45" x2="823.10" y2="270.90" stroke="#000" stroke-width="0.9"/>
<line x1="821.35" y1="274.45" x2="823.10" y2="272.90" stroke="#000" stroke-width="0.9"/>
<text transform="translate(831.00,267.10) rotate(-90) scale(0.62,1)" font-size="7.8" font-weight="normal" fill="#222" text-anchor="middle">10</text>
<line x1="811.00" y1="304.45" x2="828.90" y2="304.45" stroke="#000" stroke-width="0.9" />
<line x1="811.00" y1="317.50" x2="828.90" y2="317.50" stroke="#000" stroke-width="0.9" />
<line x1="826.45" y1="301.20" x2="826.45" y2="319.70" stroke="#000" stroke-width="0.9" />
<line x1="825.20" y1="305.45" x2="826.95" y2="303.90" stroke="#000" stroke-width="0.9"/>
<line x1="825.20" y1="318.50" x2="826.95" y2="316.95" stroke="#000" stroke-width="0.9"/>
<text transform="translate(824.80,310.40) rotate(-90) scale(0.72,1)" font-size="7.8" font-weight="normal" fill="#444" text-anchor="middle">60</text>
<text x="858.30" y="294.00" font-size="8.3" font-weight="900" fill="#000" stroke="#000" stroke-width="0.3" textLength="44.40" lengthAdjust="spacingAndGlyphs">黑色工艺漆</text>
<line x1="857.90" y1="296.30" x2="904.80" y2="296.30" stroke="#000" stroke-width="0.9" />
<line x1="858.30" y1="296.30" x2="774.00" y2="291.00" stroke="#000" stroke-width="0.8" />
<text x="858.30" y="313.90" font-size="8.3" font-weight="900" fill="#000" stroke="#000" stroke-width="0.3" textLength="53.00" lengthAdjust="spacingAndGlyphs">金箔做旧饰面</text>
<line x1="857.90" y1="316.20" x2="913.70" y2="316.20" stroke="#000" stroke-width="0.9" />
<line x1="858.30" y1="316.20" x2="810.90" y2="311.30" stroke="#000" stroke-width="0.8" />
<text x="858.30" y="356.30" font-size="8.3" font-weight="900" fill="#000" stroke="#000" stroke-width="0.3" textLength="53.00" lengthAdjust="spacingAndGlyphs">金箔做旧饰面</text>
<line x1="857.90" y1="358.60" x2="913.70" y2="358.60" stroke="#000" stroke-width="0.9" />
<line x1="858.30" y1="358.60" x2="789.30" y2="353.40" stroke="#000" stroke-width="0.8" />
<circle cx="705.90" cy="464.40" r="11.0" fill="#fff" stroke="#000" stroke-width="0.95"/>
<text transform="translate(705.70,467.70)" font-size="10.2" font-weight="bold" fill="#000" text-anchor="middle" stroke="#000" stroke-width="0.3">3</text>
<line x1="716.90" y1="464.30" x2="860.30" y2="464.30" stroke="#000" stroke-width="1.0" />
<text x="721.70" y="462.45" font-size="9.0" font-weight="bold" fill="#000" stroke="#000" stroke-width="0.6" textLength="35.20" lengthAdjust="spacingAndGlyphs">ELEVATION</text>
<text x="721.80" y="472.30" font-size="6.8" font-weight="900" fill="#000" stroke="#000" stroke-width="0.45" textLength="31.00" lengthAdjust="spacingAndGlyphs">侧立面图</text>
<text x="816.00" y="472.50" font-size="8.4" font-weight="bold" fill="#000" stroke="#000" stroke-width="0.55" textLength="43.00" lengthAdjust="spacingAndGlyphs">SCALE: 1/10</text>
</g>
<g id="view2">
<line x1="271.20" y1="528.40" x2="479.90" y2="528.40" stroke="#000" stroke-width="1.0" />
<line x1="272.00" y1="530.10" x2="479.00" y2="530.10" stroke="#000" stroke-width="0.85" />
<line x1="272.05" y1="528.00" x2="272.05" y2="612.80" stroke="#000" stroke-width="1.8" />
<line x1="479.00" y1="528.00" x2="479.00" y2="612.80" stroke="#000" stroke-width="1.8" />
<line x1="271.15" y1="611.90" x2="479.90" y2="611.90" stroke="#000" stroke-width="1.8" />
<line x1="267.70" y1="630.40" x2="481.90" y2="630.40" stroke="#000" stroke-width="0.9" />
<line x1="271.50" y1="614.00" x2="271.50" y2="633.10" stroke="#000" stroke-width="0.9" />
<line x1="270.25" y1="631.40" x2="272.00" y2="629.85" stroke="#000" stroke-width="0.9"/>
<line x1="479.40" y1="614.00" x2="479.40" y2="633.10" stroke="#000" stroke-width="0.9" />
<line x1="478.15" y1="631.40" x2="479.90" y2="629.85" stroke="#000" stroke-width="0.9"/>
<text transform="translate(374.80,628.00) scale(0.76,1)" font-size="7.6" font-weight="normal" fill="#222" text-anchor="middle">1,000</text>
<line x1="481.00" y1="528.40" x2="504.30" y2="528.40" stroke="#000" stroke-width="0.9" />
<line x1="481.00" y1="612.00" x2="504.30" y2="612.00" stroke="#000" stroke-width="0.9" />
<line x1="501.50" y1="525.00" x2="501.50" y2="614.90" stroke="#000" stroke-width="0.9" />
<line x1="500.25" y1="529.40" x2="502.00" y2="527.85" stroke="#000" stroke-width="0.9"/>
<line x1="500.25" y1="613.00" x2="502.00" y2="611.45" stroke="#000" stroke-width="0.9"/>
<text transform="translate(499.90,570.00) rotate(-90) scale(0.76,1)" font-size="7.6" font-weight="normal" fill="#222" text-anchor="middle">400</text>
<text x="528.00" y="565.80" font-size="8.3" font-weight="900" fill="#000" stroke="#000" stroke-width="0.3" textLength="44.00" lengthAdjust="spacingAndGlyphs">黑色工艺漆</text>
<line x1="527.60" y1="568.10" x2="574.00" y2="568.10" stroke="#000" stroke-width="0.9" />
<line x1="528.00" y1="568.10" x2="444.40" y2="562.90" stroke="#000" stroke-width="0.8" />
<circle cx="444.4" cy="562.9" r="0.8" fill="#000"/>
<circle cx="311.60" cy="673.45" r="11.0" fill="#fff" stroke="#000" stroke-width="0.95"/>
<text transform="translate(311.40,676.75)" font-size="10.2" font-weight="bold" fill="#000" text-anchor="middle" stroke="#000" stroke-width="0.3">2</text>
<line x1="322.60" y1="673.35" x2="465.60" y2="673.35" stroke="#000" stroke-width="1.0" />
<text x="327.40" y="671.50" font-size="9.0" font-weight="bold" fill="#000" stroke="#000" stroke-width="0.6" textLength="11.80" lengthAdjust="spacingAndGlyphs">PAN</text>
<text x="327.50" y="681.35" font-size="6.8" font-weight="900" fill="#000" stroke="#000" stroke-width="0.45" textLength="23.60" lengthAdjust="spacingAndGlyphs">平面图</text>
<text x="422.20" y="681.55" font-size="8.4" font-weight="bold" fill="#000" stroke="#000" stroke-width="0.55" textLength="43.00" lengthAdjust="spacingAndGlyphs">SCALE: 1/10</text>
</g>
</svg></body></html>
